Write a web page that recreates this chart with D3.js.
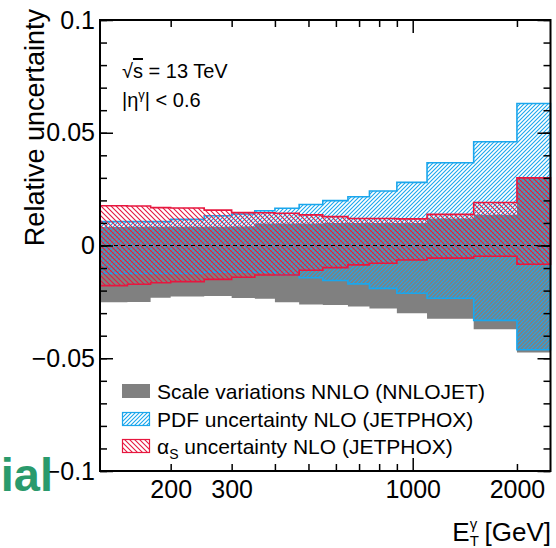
<!DOCTYPE html>
<html>
<head>
<meta charset="utf-8">
<script src="https://cdn.jsdelivr.net/npm/d3@7"></script>
<style>
  body { margin: 0; background: #fff; }
  text { font-family: "Liberation Sans", Arial, Helvetica, sans-serif; }
</style>
</head>
<body>
<script>
// bin edges in E_T [GeV]
var binEdges = [125, 150, 175, 200, 250, 300, 350, 400, 470, 550, 650, 750, 900, 1100, 1500, 2000, 2500];

// scale variations NNLO (grey band)
var scaleUp   = [0.0082, 0.0083, 0.0083, 0.0083, 0.0083, 0.0084, 0.0098, 0.0098, 0.0098, 0.0100, 0.0100, 0.0100, 0.0100, 0.0120, 0.0136, 0.0300];
var scaleDown = [-0.0252, -0.0250, -0.0232, -0.0226, -0.0224, -0.0233, -0.0236, -0.0252, -0.0262, -0.0264, -0.0270, -0.0279, -0.0300, -0.0325, -0.0371, -0.0474];

// PDF uncertainty NLO (blue hatch)
var pdfUp   = [0.0106, 0.0106, 0.0106, 0.0116, 0.0132, 0.0140, 0.0154, 0.0165, 0.0182, 0.0199, 0.0216, 0.0242, 0.0280, 0.0367, 0.0460, 0.0630];
var pdfDown = [-0.0124, -0.0124, -0.0124, -0.0124, -0.0118, -0.0118, -0.0118, -0.0131, -0.0143, -0.0155, -0.0170, -0.0190, -0.0212, -0.0234, -0.0332, -0.0462];

// alpha_s uncertainty NLO (red hatch)
var alphaUp   = [0.0176, 0.0175, 0.0168, 0.0166, 0.0157, 0.0146, 0.0145, 0.0143, 0.0136, 0.0128, 0.0120, 0.0120, 0.0118, 0.0138, 0.0191, 0.0300];
var alphaDown = [-0.0178, -0.0172, -0.0165, -0.0160, -0.0150, -0.0141, -0.0131, -0.0131, -0.0110, -0.0098, -0.0086, -0.0079, -0.0064, -0.0056, -0.0048, -0.0083];

var yMajorTicks = [-0.1, -0.05, 0, 0.05, 0.1];
var yTickLabels = ['\u22120.1', '\u22120.05', '0', '0.05', '0.1'];
var xMajorTicks = [1000];
var xMinorTicks = [200, 300, 400, 500, 600, 700, 800, 900, 2000];
var xLabelled = [200, 300, 1000, 2000];

var legendLabels = ['Scale variations NNLO (NNLOJET)', 'PDF uncertainty NLO (JETPHOX)', ' uncertainty NLO (JETPHOX)'];

var grey = '#808080';
var blue = '#1ba6ec';
var red = '#e6173f';

var plot = { left: 100, right: 550.5, top: 20, bottom: 471 };

var x = d3.scaleLog().domain([125, 2500]).range([plot.left, plot.right]);
var y = d3.scaleLinear().domain([-0.1, 0.1]).range([plot.bottom, plot.top]);

var svg = d3.select('body').append('svg')
  .attr('width', 556)
  .attr('height', 548);

// hatch patterns
var defs = svg.append('defs');
var makeHatch = function(id, size, colour, forward) {
  var p = defs.append('pattern')
    .attr('id', id)
    .attr('patternUnits', 'userSpaceOnUse')
    .attr('width', size)
    .attr('height', size);
  var d = forward
    ? 'M-1,1 l2,-2 M0,' + size + ' l' + size + ',-' + size + ' M' + (size - 1) + ',' + (size + 1) + ' l2,-2'
    : 'M-1,' + (size - 1) + ' l2,2 M0,0 l' + size + ',' + size + ' M' + (size - 1) + ',-1 l2,2';
  p.append('path')
    .attr('d', d)
    .attr('stroke', colour)
    .attr('stroke-width', 1.1)
    .attr('fill', 'none');
};
makeHatch('pdfHatch', 4, blue, true);
makeHatch('alphaHatch', 5, red, false);

var bandPath = function(up, down) {
  var pts = [];
  for (var i = 0; i < up.length; i++) {
    pts.push([x(binEdges[i]), y(up[i])]);
    pts.push([x(binEdges[i + 1]), y(up[i])]);
  }
  for (var j = down.length - 1; j >= 0; j--) {
    pts.push([x(binEdges[j + 1]), y(down[j])]);
    pts.push([x(binEdges[j]), y(down[j])]);
  }
  return d3.line()(pts) + 'Z';
};

var bands = svg.append('g');

bands.append('path')
  .attr('d', bandPath(scaleUp, scaleDown))
  .attr('fill', grey)
  .attr('stroke', 'none');

bands.append('path')
  .attr('d', bandPath(pdfUp, pdfDown))
  .attr('fill', 'url(#pdfHatch)')
  .attr('stroke', blue)
  .attr('stroke-width', 1.6);

bands.append('path')
  .attr('d', bandPath(alphaUp, alphaDown))
  .attr('fill', 'url(#alphaHatch)')
  .attr('stroke', red)
  .attr('stroke-width', 1.6);

// zero line
svg.append('line')
  .attr('x1', x(125)).attr('x2', x(2500))
  .attr('y1', y(0)).attr('y2', y(0))
  .attr('stroke', '#000')
  .attr('stroke-width', 1)
  .attr('stroke-dasharray', '4,3');

// axes (ticks point inside the frame)
var styleAxis = function(g) {
  g.select('.domain').remove();
  g.selectAll('.tick line').attr('stroke', '#000').attr('stroke-width', 1.5);
  g.selectAll('text')
    .attr('fill', '#000')
    .style('font-size', '25px')
    .style('font-family', '"Liberation Sans", Arial, sans-serif');
};

var yMinor = d3.range(-10, 11).map(function(v) { return v / 100; });

svg.append('g')
  .attr('transform', 'translate(' + plot.left + ',0)')
  .call(d3.axisLeft(y).tickValues(yMinor).tickSize(-7).tickFormat(''))
  .call(styleAxis);
svg.append('g')
  .attr('transform', 'translate(' + plot.left + ',0)')
  .call(d3.axisLeft(y).tickValues(yMajorTicks).tickSize(-13).tickPadding(5)
    .tickFormat(function(d, i) { return yTickLabels[i]; }))
  .call(styleAxis);
svg.append('g')
  .attr('transform', 'translate(' + plot.right + ',0)')
  .call(d3.axisRight(y).tickValues(yMinor).tickSize(-7).tickFormat(''))
  .call(styleAxis);
svg.append('g')
  .attr('transform', 'translate(' + plot.right + ',0)')
  .call(d3.axisRight(y).tickValues(yMajorTicks).tickSize(-13).tickFormat(''))
  .call(styleAxis);

var xFormat = function(d) { return xLabelled.indexOf(d) >= 0 ? String(d) : ''; };

svg.append('g')
  .attr('transform', 'translate(0,' + plot.bottom + ')')
  .call(d3.axisBottom(x).tickValues(xMinorTicks).tickSize(-7).tickPadding(9).tickFormat(xFormat))
  .call(styleAxis);
svg.append('g')
  .attr('transform', 'translate(0,' + plot.bottom + ')')
  .call(d3.axisBottom(x).tickValues(xMajorTicks).tickSize(-13).tickPadding(9).tickFormat(xFormat))
  .call(styleAxis);
svg.append('g')
  .attr('transform', 'translate(0,' + plot.top + ')')
  .call(d3.axisTop(x).tickValues(xMinorTicks).tickSize(-7).tickFormat(''))
  .call(styleAxis);
svg.append('g')
  .attr('transform', 'translate(0,' + plot.top + ')')
  .call(d3.axisTop(x).tickValues(xMajorTicks).tickSize(-13).tickFormat(''))
  .call(styleAxis);

// frame
svg.append('rect')
  .attr('x', plot.left)
  .attr('y', plot.top)
  .attr('width', plot.right - plot.left)
  .attr('height', plot.bottom - plot.top)
  .attr('fill', 'none')
  .attr('stroke', '#000')
  .attr('stroke-width', 2);

// axis titles
svg.append('text')
  .attr('transform', 'translate(44,9) rotate(-90)')
  .attr('text-anchor', 'end')
  .attr('font-size', 27)
  .text('Relative uncertainty');

var xt = svg.append('text')
  .attr('x', 551)
  .attr('y', 541)
  .attr('text-anchor', 'end')
  .attr('font-size', 26);
xt.append('tspan').text('E');
xt.append('tspan').attr('font-size', 15).attr('dy', 5).text('T');
xt.append('tspan').attr('font-size', 15).attr('dx', -9).attr('dy', -17).text('\u03b3');
xt.append('tspan').attr('dy', 12).text(' [GeV]');

// annotations
var a1 = svg.append('text')
  .attr('x', 122)
  .attr('y', 78)
  .attr('font-size', 20);
a1.append('tspan').text('\u221a');
a1.append('tspan').style('text-decoration', 'overline').text('s');
a1.append('tspan').text(' = 13 TeV');

var a2 = svg.append('text')
  .attr('x', 122)
  .attr('y', 107)
  .attr('font-size', 20);
a2.append('tspan').text('|\u03b7');
a2.append('tspan').attr('font-size', 13).attr('dy', -8).text('\u03b3');
a2.append('tspan').attr('dy', 8).text('| < 0.6');

// legend
var legendRows = [391, 419, 446];
var legend = svg.append('g');

legend.append('rect')
  .attr('x', 122).attr('y', legendRows[0] - 7)
  .attr('width', 28).attr('height', 14)
  .attr('fill', grey);
legend.append('rect')
  .attr('x', 122.5).attr('y', legendRows[1] - 6.5)
  .attr('width', 27).attr('height', 13)
  .attr('fill', 'url(#pdfHatch)')
  .attr('stroke', blue).attr('stroke-width', 1.2);
legend.append('rect')
  .attr('x', 122.5).attr('y', legendRows[2] - 6.5)
  .attr('width', 27).attr('height', 13)
  .attr('fill', 'url(#alphaHatch)')
  .attr('stroke', red).attr('stroke-width', 1.2);

legend.append('text')
  .attr('x', 157).attr('y', legendRows[0] + 7.5)
  .attr('font-size', 21)
  .text(legendLabels[0]);
legend.append('text')
  .attr('x', 157).attr('y', legendRows[1] + 7.5)
  .attr('font-size', 21)
  .text(legendLabels[1]);
var l3 = legend.append('text')
  .attr('x', 157).attr('y', legendRows[2] + 7.5)
  .attr('font-size', 21);
l3.append('tspan').text('\u03b1');
l3.append('tspan').attr('font-size', 14).attr('dy', 5).text('S');
l3.append('tspan').attr('dy', -5).text(legendLabels[2]);

// cut-off label at lower left
svg.append('text')
  .attr('x', 53)
  .attr('y', 491)
  .attr('text-anchor', 'end')
  .attr('font-size', 47)
  .attr('font-weight', 'bold')
  .attr('fill', '#2a9a6c')
  .text('ial');
</script>
</body>
</html>
